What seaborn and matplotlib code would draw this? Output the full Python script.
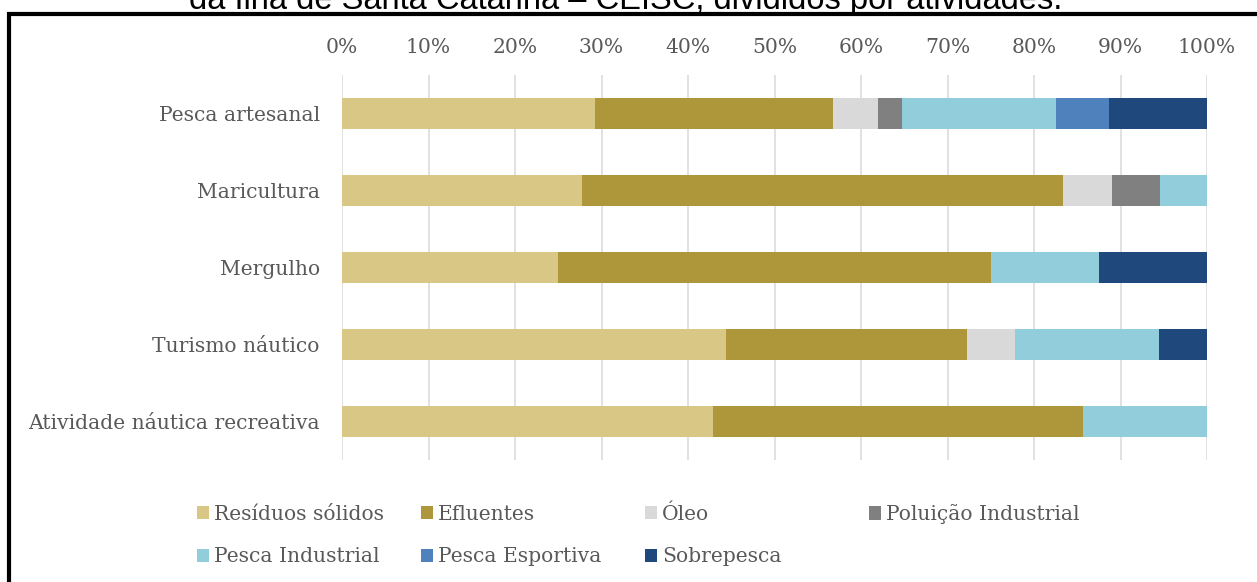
import matplotlib
matplotlib.use("Agg")
import matplotlib.pyplot as plt
from matplotlib.patches import Patch, Rectangle
import numpy as np
import pandas as pd
import seaborn as sns

# Activities (top to bottom) and the share (%) of each impact type
activities = [
    "Pesca artesanal",
    "Maricultura",
    "Mergulho",
    "Turismo náutico",
    "Atividade náutica recreativa",
]
residuos_solidos = [29.2, 27.8, 25.0, 44.4, 42.9]
efluentes = [27.6, 55.6, 50.0, 27.8, 42.8]
oleo = [5.2, 5.6, 0.0, 5.6, 0.0]
poluicao_industrial = [2.7, 5.6, 0.0, 0.0, 0.0]
pesca_industrial = [17.9, 5.6, 12.5, 16.7, 14.3]
pesca_esportiva = [6.1, 0.0, 0.0, 0.0, 0.0]
sobrepesca = [11.3, 0.0, 12.5, 5.5, 0.0]

series_names = [
    "Resíduos sólidos",
    "Efluentes",
    "Óleo",
    "Poluição Industrial",
    "Pesca Industrial",
    "Pesca Esportiva",
    "Sobrepesca",
]
series_values = [
    residuos_solidos,
    efluentes,
    oleo,
    poluicao_industrial,
    pesca_industrial,
    pesca_esportiva,
    sobrepesca,
]
colors = ["#D8C785", "#AE963A", "#D9D9D9", "#808080", "#92CDDC", "#4F81BD", "#1F497D"]
x_ticks = list(range(0, 101, 10))
x_tick_labels = [f"{t}%" for t in x_ticks]

title_text = "da Ilha de Santa Catarina – CEISC, divididos por atividades."

sns.set_theme(style="white")
plt.rcParams["font.family"] = ["DejaVu Serif"]

TXT = 14.6
W, H = 1257, 582
fig = plt.figure(figsize=(W / 100, H / 100), dpi=100)
ax = fig.add_axes([342 / W, 1 - 460 / H, (1207 - 342) / W, (460 - 75) / H])

# Cumulative totals drawn longest-first so each segment overlays the next
values = np.array(series_values)
cumulative = np.cumsum(values, axis=0)
for i in range(len(series_names) - 1, -1, -1):
    df = pd.DataFrame({"activity": activities, "total": cumulative[i]})
    sns.barplot(
        data=df, x="total", y="activity", orient="h", color=colors[i],
        saturation=1, width=0.4, linewidth=0, ax=ax, order=activities,
    )

ax.set_xlim(0, 100)
ax.set_ylim(4.5, -0.5)
ax.set_xticks(x_ticks)
ax.set_xticklabels(x_tick_labels)
ax.xaxis.tick_top()
ax.set_xlabel("")
ax.set_ylabel("")
ax.grid(axis="x", color="#D9D9D9", linewidth=1.1)
ax.grid(axis="y", visible=False)
ax.set_axisbelow(True)
for side in ax.spines.values():
    side.set_visible(False)
ax.tick_params(axis="x", length=0, pad=13, labelsize=TXT, labelcolor="#595959")
ax.tick_params(axis="y", length=0, pad=16, labelsize=TXT, labelcolor="#595959")

# Legend laid out as a 4-column grid
col_x = [197, 421, 645, 869]
row_y = [514, 557]
for k, (name, col) in enumerate(zip(series_names, colors)):
    r, c = divmod(k, 4)
    fig.legend(
        handles=[Patch(facecolor=col, edgecolor="none")], labels=[name],
        loc="center left", bbox_to_anchor=(col_x[c] / W, 1 - row_y[r] / H),
        frameon=False, borderpad=0, borderaxespad=0, fontsize=TXT,
        handlelength=0.6, handleheight=0.65, handletextpad=0.25,
        labelcolor="#595959",
    )

# Outer frame around the chart
fig.patches.append(Rectangle(
    (9 / W, -0.1), 1.2, 1.1 - 14.5 / H, transform=fig.transFigure,
    fill=False, edgecolor="black", linewidth=3, zorder=10,
))

fig.text(626 / W, 1 - 9 / H, title_text, ha="center", va="baseline",
         fontsize=23.5, family="Liberation Sans", color="black")

fig.savefig("out.png", dpi=100)
